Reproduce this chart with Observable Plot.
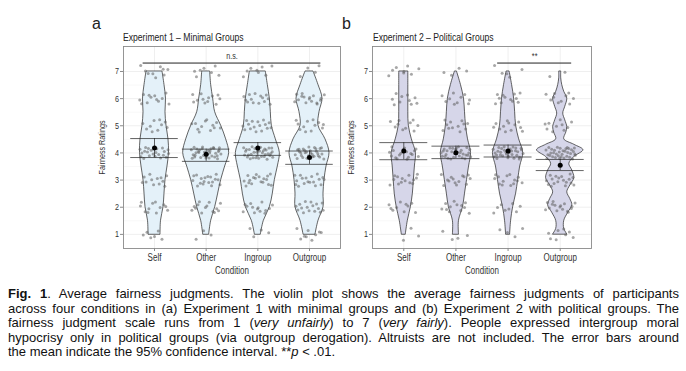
<!DOCTYPE html>
<html><head><meta charset="utf-8">
<script src="https://cdn.jsdelivr.net/npm/d3@7"></script>
<script src="https://cdn.jsdelivr.net/npm/@observablehq/plot@0.6"></script>
<style>
body{margin:0;background:#fff;}
#wrap{position:relative;width:686px;height:371px;overflow:hidden;font-family:"Liberation Sans",Arial,sans-serif;color:#222;}
.panel{position:absolute;}
.letter{position:absolute;font-family:"Liberation Sans",Arial,sans-serif;font-size:16px;line-height:16px;color:#222;}
.ptitle{position:absolute;font-size:10.5px;line-height:10.5px;white-space:nowrap;color:#222;transform:scaleX(0.82);transform-origin:0 0;}
#caption{position:absolute;left:8px;top:287px;width:671px;font-family:"Liberation Sans",Arial,sans-serif;font-size:13px;line-height:14.6px;color:#111;}
.ln{text-align:justify;text-align-last:justify;white-space:nowrap;}
.last{text-align:left;white-space:nowrap;}
svg text{fill:#333;}
</style></head>
<body><div id="wrap">
<div class="letter" style="left:92px;top:16px">a</div>
<div class="letter" style="left:342px;top:16px">b</div>
<div class="ptitle" style="left:123px;top:32px">Experiment 1 – Minimal Groups</div>
<div class="ptitle" style="left:373px;top:32px">Experiment 2 – Political Groups</div>
<div class="panel" id="pa" style="left:80px;top:40px"></div>
<div class="panel" id="pb" style="left:329px;top:40px"></div>
<div id="caption">
<div class="ln"><b>Fig. 1</b>. Average fairness judgments. The violin plot shows the average fairness judgments of participants</div>
<div class="ln">across four conditions in (a) Experiment 1 with minimal groups and (b) Experiment 2 with political groups. The</div>
<div class="ln">fairness judgment scale runs from 1 (<i>very unfairly</i>) to 7 (<i>very fairly</i>). People expressed intergroup moral</div>
<div class="ln">hypocrisy only in political groups (via outgroup derogation). Altruists are not included. The error bars around</div>
<div class="last">the mean indicate the 95% confidence interval. **<i>p</i> &lt; .01.</div>
</div>
</div>
<script>
// ---------- data ----------
const conditions = ["Self", "Other", "Ingroup", "Outgroup"];
const ratingTicks = [1, 2, 3, 4, 5, 6, 7];
const minorTicks = [1.5, 2.5, 3.5, 4.5, 5.5, 6.5];

// rating levels at which violin density (relative half-width) was read
const levels = [1, 1.5, 2, 2.5, 3, 3.5, 4, 4.5, 5, 5.5, 6, 6.5, 7];
const outgroup2Levels = [1, 1.2, 1.5, 1.8, 2.07, 2.3, 2.55, 2.8, 3.07, 3.35, 3.6, 3.85, 4.1, 4.3, 4.5, 4.75, 4.95, 5.2, 5.45, 5.7, 6, 6.25, 6.5, 6.75, 7];

// Experiment 1 densities
const exp1SelfDensity     = [6, 6.5, 9, 10, 11, 13, 14.5, 14, 12, 11, 11.5, 10, 8];
const exp1OtherDensity    = [3, 5, 9, 12, 15, 19, 23, 20, 15, 9, 7, 5, 4];
const exp1IngroupDensity  = [3, 6, 12, 15, 17, 20, 22, 18, 14, 13, 12, 10, 8];
const exp1OutgroupDensity = [6, 9, 14, 14, 15, 17, 20, 16, 9, 10, 13, 9, 4];
// Experiment 2 densities
const exp2SelfDensity     = [2, 4, 7, 9, 10, 11, 12, 8, 5, 4.5, 4.5, 4.5, 4.5];
const exp2OtherDensity    = [3, 3, 7, 9, 11, 13, 15, 12, 10, 9, 8, 5, 1];
const exp2IngroupDensity  = [2, 3, 5, 8, 10, 12, 15, 11, 8, 7, 6, 4, 1.5];
const exp2OutgroupDensity = [7, 4, 4, 8, 12, 10, 7, 10, 14, 12, 9, 14, 23, 14, 4, 6, 7, 5, 3, 5, 7, 4, 2, 1, 1];

// number of participants' ratings near each scale point 1..7
const exp1SelfCounts     = [6, 12, 12, 22, 10, 12, 9];
const exp1OtherCounts    = [3, 14, 18, 35, 12, 12, 7];
const exp1IngroupCounts  = [4, 14, 18, 35, 16, 14, 8];
const exp1OutgroupCounts = [9, 16, 18, 30, 12, 16, 4];
const exp2SelfCounts     = [3, 10, 14, 18, 10, 10, 8];
const exp2OtherCounts    = [4, 12, 14, 30, 12, 10, 4];
const exp2IngroupCounts  = [4, 8, 14, 32, 12, 12, 5];
const exp2OutgroupCounts = [8, 16, 18, 35, 10, 10, 2];

// means and 95% CI
const exp1Means = [4.18, 3.95, 4.18, 3.83];
const exp1Lower = [3.83, 3.69, 3.91, 3.58];
const exp1Upper = [4.53, 4.14, 4.38, 4.07];
const exp2Means = [4.07, 4.01, 4.07, 3.55];
const exp2Lower = [3.75, 3.79, 3.85, 3.35];
const exp2Upper = [4.38, 4.25, 4.29, 3.76];

// ---------- helpers ----------
const densityScale = 1 / 51.7;
function halton(i, b) { let f = 1, r = 0; while (i > 0) { f /= b; r += f * (i % b); i = Math.floor(i / b); } return r; }

function makePanel(o) {
  const violin = [];
  o.densities.forEach((ws, i) => {
    const lv = o.levelSets[i];
    ws.forEach((w, j) => violin.push({c: i + 1, y: lv[j], w: w * densityScale}));
  });
  const points = [];
  let g = 1 + o.seed;
  o.counts.forEach((cs, i) => {
    cs.forEach((n, j) => {
      for (let k = 0; k < n; k++, g++) {
        points.push({x: i + 1 + (halton(g, 2) - 0.5) * 0.58, y: ratingTicks[j] + (halton(g, 3) - 0.5) * 0.46});
      }
    });
  });
  const ci = o.means.map((m, i) => ({c: i + 1, m, lo: o.lower[i], hi: o.upper[i]}));
  const ink = "#222";
  return Plot.plot({
    width: o.width, height: 238,
    marginLeft: 43, marginRight: 2, marginTop: 6, marginBottom: 30,
    style: {fontFamily: '"Liberation Sans",Arial,sans-serif', fontSize: "9px", color: "#333", background: "transparent"},
    x: {domain: [0.4, 4.6]},
    y: {domain: [0.48, 7.92]},
    marks: [
      Plot.ruleY(minorTicks, {stroke: "#f4f4f4", strokeWidth: 0.6}),
      Plot.ruleY(ratingTicks, {stroke: "#e8e8e8", strokeWidth: 0.7}),
      Plot.ruleX([1, 2, 3, 4], {stroke: "#e8e8e8", strokeWidth: 0.7}),
      Plot.areaX(violin, {z: "c", y: "y", x1: d => d.c - d.w, x2: d => d.c + d.w, fill: o.fill, stroke: ink, strokeWidth: 0.7, curve: "catmull-rom"}),
      Plot.dot(points, {x: "x", y: "y", r: 1.5, fill: "#5e5e5e", fillOpacity: 0.55}),
      Plot.ruleY(ci, {y: "hi", x1: d => d.c - 0.46, x2: d => d.c + 0.46, stroke: ink, strokeWidth: 0.7}),
      Plot.ruleY(ci, {y: "lo", x1: d => d.c - 0.46, x2: d => d.c + 0.46, stroke: ink, strokeWidth: 0.7}),
      Plot.ruleX(ci, {x: "c", y1: "lo", y2: "hi", stroke: ink, strokeWidth: 0.7}),
      Plot.dot(ci, {x: "c", y: "m", r: 2.5, fill: "#000"}),
      Plot.ruleY([o.bracketY], {x1: o.bracket[0], x2: o.bracket[1], stroke: ink, strokeWidth: 1}),
      Plot.text([o.sig], {x: (o.bracket[0] + o.bracket[1]) / 2, y: o.bracketY + 0.26, text: d => d, fontSize: 9, fill: "#333"}),
      Plot.frame({stroke: "#8a8a8a", strokeWidth: 0.9}),
      Plot.axisX({ticks: [1, 2, 3, 4], tickFormat: d => conditions[d - 1], tickSize: 3, tickPadding: 2, stroke: "#8a8a8a",
        label: "Condition", labelAnchor: "center", labelArrow: "none", labelOffset: 25, fontSize: 10}),
      Plot.axisY({ticks: ratingTicks, tickSize: 3, tickPadding: 1.5, stroke: "#8a8a8a",
        label: "Fairness Ratings", labelAnchor: "center", labelArrow: "none", labelOffset: 25})
    ]
  });
}

// emulate the narrow typeface of the original by horizontally condensing text
function condense(svg, f) {
  svg.querySelectorAll("text").forEach(t => {
    const spans = t.querySelectorAll("tspan");
    const targets = spans.length ? Array.from(spans) : [t];
    targets.forEach(el => {
      const L = el.getComputedTextLength();
      if (L > 0) { el.setAttribute("textLength", L * f); el.setAttribute("lengthAdjust", "spacingAndGlyphs"); }
    });
  });
}

const pa = makePanel({
  width: 262, seed: 0, fill: "#e4f1f9",
  levelSets: [levels, levels, levels, levels],
  densities: [exp1SelfDensity, exp1OtherDensity, exp1IngroupDensity, exp1OutgroupDensity],
  counts: [exp1SelfCounts, exp1OtherCounts, exp1IngroupCounts, exp1OutgroupCounts],
  means: exp1Means, lower: exp1Lower, upper: exp1Upper,
  bracket: [0.78, 4.22], bracketY: 7.31, sig: "n.s."
});
const pb = makePanel({
  width: 264, seed: 700, fill: "#d6d6e9",
  levelSets: [levels, levels, levels, outgroup2Levels],
  densities: [exp2SelfDensity, exp2OtherDensity, exp2IngroupDensity, exp2OutgroupDensity],
  counts: [exp2SelfCounts, exp2OtherCounts, exp2IngroupCounts, exp2OutgroupCounts],
  means: exp2Means, lower: exp2Lower, upper: exp2Upper,
  bracket: [2.8, 4.22], bracketY: 7.31, sig: "**"
});
document.getElementById("pa").appendChild(pa);
document.getElementById("pb").appendChild(pb);
condense(pa, 0.8);
condense(pb, 0.8);
</script>
</body></html>
